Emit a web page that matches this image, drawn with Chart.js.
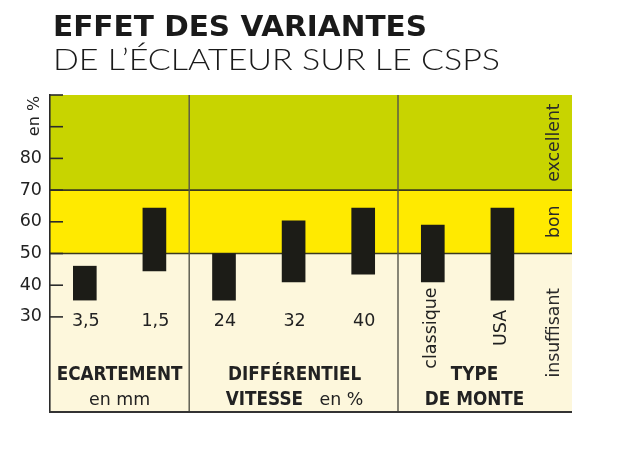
<!DOCTYPE html>
<html>
<head>
<meta charset="utf-8">
<script src="https://cdn.jsdelivr.net/npm/chart.js@4/dist/chart.umd.min.js"></script>
<style>
  html, body { margin: 0; padding: 0; background: #ffffff; }
  #wrap { position: relative; width: 620px; height: 456px; }
</style>
</head>
<body>
<div id="wrap"><canvas id="c"></canvas></div>
<script>
// ---- data ----
const titleText = 'EFFET DES VARIANTES';
const subtitleText = 'DE L’ÉCLATEUR SUR LE CSPS';
const categories = ['3,5', '1,5', '24', '32', '40', 'classique', 'USA'];
const lowValues  = [35.3, 44.5, 35.3, 41.0, 43.5, 41.0, 35.3];
const highValues = [46.0, 64.3, 50.0, 60.3, 64.3, 59.0, 64.3];
const groupOfCategory = [0, 0, 1, 1, 1, 2, 2];
const groupTitles = ['ECARTEMENT', 'DIFFÉRENTIEL', 'TYPE'];
const groupSubtitles = [
  [['en mm', false]],
  [['VITESSE', true], ['   en %', false]],
  [['DE MONTE', true]]
];
const bandLimits = [0, 50, 70, 100];
const bandNames = ['insuffisant', 'bon', 'excellent'];
const yTickLabels = [30, 40, 50, 60, 70, 80];
const yTickMarks = [30, 40, 50, 60, 70, 80, 90, 100];
const yAxisUnit = 'en %';

// ---- styling ----
const bandColors = ['#fdf7dc', '#ffea00', '#c8d400'];
const barColor = '#1c1c17';
const textColor = '#222222';
const numFont = '"DejaVu Sans", Verdana, sans-serif';

const barData = categories.map((c, i) => ({ x: i, y: [lowValues[i], highValues[i]] }));

function drawFitted(ctx, text, x, y, font, targetWidth) {
  ctx.save();
  ctx.font = font;
  const w = ctx.measureText(text).width;
  const s = targetWidth ? targetWidth / w : 1;
  ctx.translate(x, y);
  ctx.scale(s, 1);
  ctx.fillText(text, 0, 0);
  ctx.restore();
}

function drawCondensed(ctx, text, x, y, font, squeeze) {
  ctx.save();
  ctx.font = font;
  ctx.translate(x, y);
  ctx.scale(squeeze, 1);
  ctx.fillText(text, 0, 0);
  ctx.restore();
}

const boldFont = 'bold 18.7px ' + numFont;
const regFont = '17.4px ' + numFont;
const squeeze = 0.9;

function segWidth(ctx, seg) {
  ctx.save();
  ctx.font = seg[1] ? boldFont : regFont;
  const w = ctx.measureText(seg[0]).width * (seg[1] ? squeeze : 1);
  ctx.restore();
  return w;
}

const decor = {
  id: 'decor',
  beforeDraw(chart) {
    const { ctx, chartArea: a, scales: { y } } = chart;
    ctx.save();
    for (let i = 0; i < bandNames.length; i++) {
      const top = y.getPixelForValue(bandLimits[i + 1]);
      const bot = y.getPixelForValue(bandLimits[i]);
      ctx.fillStyle = bandColors[i];
      ctx.fillRect(a.left, top, a.right - a.left, bot - top);
    }
    // titles
    ctx.fillStyle = '#1a1a1a';
    ctx.textAlign = 'left';
    ctx.textBaseline = 'alphabetic';
    drawFitted(ctx, titleText, 53, 36, 'bold 29px ' + numFont, 374);
    drawFitted(ctx, subtitleText, 53, 70, '300 29.5px Lato, "DejaVu Sans", sans-serif', 447);
    // y unit
    ctx.save();
    ctx.translate(35, 116);
    ctx.rotate(-Math.PI / 2);
    ctx.font = '16px ' + numFont;
    ctx.fillStyle = textColor;
    ctx.textAlign = 'center';
    ctx.textBaseline = 'middle';
    ctx.fillText(yAxisUnit, 0, 0);
    ctx.restore();
    ctx.restore();
  },
  beforeDatasetsDraw(chart) {
    const { ctx, chartArea: a, scales: { x, y } } = chart;
    ctx.save();
    // band separators
    ctx.strokeStyle = '#3b3a1e';
    ctx.lineWidth = 1.6;
    for (let i = 1; i < bandLimits.length - 1; i++) {
      const py = y.getPixelForValue(bandLimits[i]);
      ctx.beginPath(); ctx.moveTo(a.left, py); ctx.lineTo(a.right, py); ctx.stroke();
    }
    // group dividers
    ctx.strokeStyle = '#55554a';
    ctx.lineWidth = 1.4;
    for (let i = 1; i < groupOfCategory.length; i++) {
      if (groupOfCategory[i] !== groupOfCategory[i - 1]) {
        const px = x.getPixelForValue(i - 0.5);
        ctx.beginPath(); ctx.moveTo(px, a.top); ctx.lineTo(px, a.bottom); ctx.stroke();
      }
    }
    // inward tick marks
    ctx.strokeStyle = '#2b2b2b';
    ctx.lineWidth = 1.6;
    yTickMarks.forEach(v => {
      const py = y.getPixelForValue(v);
      ctx.beginPath(); ctx.moveTo(a.left, py); ctx.lineTo(a.left + 13, py); ctx.stroke();
    });
    // bottom line
    ctx.strokeStyle = '#333333';
    ctx.lineWidth = 2;
    ctx.beginPath(); ctx.moveTo(a.left - 1, a.bottom); ctx.lineTo(a.right, a.bottom); ctx.stroke();
    ctx.restore();
  },
  afterDatasetsDraw(chart) {
    const { ctx, chartArea: a, scales: { x, y } } = chart;
    ctx.save();
    ctx.fillStyle = textColor;
    // category labels
    categories.forEach((c, i) => {
      const px = x.getPixelForValue(i);
      if (groupOfCategory[i] === 2) {
        ctx.save();
        ctx.translate(px - 1, a.bottom - 84);
        ctx.rotate(-Math.PI / 2);
        ctx.font = '17.5px ' + numFont;
        ctx.textAlign = 'center';
        ctx.textBaseline = 'middle';
        ctx.fillText(c, 0, 0);
        ctx.restore();
      } else {
        ctx.font = '17.5px ' + numFont;
        ctx.textAlign = 'center';
        ctx.textBaseline = 'middle';
        ctx.fillText(c, px + 1, a.bottom - 90.5);
      }
    });
    // band names
    bandNames.forEach((n, i) => {
      const cy = (y.getPixelForValue(bandLimits[i]) + y.getPixelForValue(bandLimits[i + 1])) / 2;
      ctx.save();
      ctx.translate(a.right - 17, cy);
      ctx.rotate(-Math.PI / 2);
      ctx.font = '17.3px ' + numFont;
      ctx.fillStyle = '#2a2a2a';
      ctx.textAlign = 'center';
      ctx.textBaseline = 'middle';
      ctx.fillText(n, 0, 0);
      ctx.restore();
    });
    // group titles
    const groupCenters = [x.getPixelForValue(0.5), x.getPixelForValue(3) + 1, x.getPixelForValue(5.6)];
    ctx.textBaseline = 'middle';
    ctx.textAlign = 'left';
    groupTitles.forEach((t, g) => {
      const w = segWidth(ctx, [t, true]);
      ctx.fillStyle = textColor;
      drawCondensed(ctx, t, groupCenters[g] - w / 2, a.bottom - 37, boldFont, squeeze);
      const segs = groupSubtitles[g];
      const total = segs.reduce((s, seg) => s + segWidth(ctx, seg), 0);
      let cx = groupCenters[g] - total / 2;
      segs.forEach(seg => {
        if (seg[1]) {
          drawCondensed(ctx, seg[0], cx, a.bottom - 12, boldFont, squeeze);
        } else {
          ctx.font = regFont;
          ctx.fillText(seg[0], cx, a.bottom - 12);
        }
        cx += segWidth(ctx, seg);
      });
    });
    ctx.restore();
  }
};

new Chart(document.getElementById('c'), {
  type: 'bar',
  data: {
    datasets: [{
      data: barData,
      backgroundColor: barColor,
      borderWidth: 0,
      barThickness: 23
    }]
  },
  options: {
    responsive: true,
    maintainAspectRatio: false,
    animation: false,
    events: [],
    layout: { padding: { left: 0, top: 95, right: 48, bottom: 44 } },
    plugins: { legend: { display: false }, tooltip: { enabled: false }, title: { display: false } },
    scales: {
      x: {
        type: 'linear',
        min: -0.5,
        max: 7,
        offset: false,
        display: false
      },
      y: {
        type: 'linear',
        min: 0,
        max: 100,
        afterFit(scale) { scale.width = 50; },
        grid: { display: false, drawTicks: false },
        border: { display: true, color: '#2b2b2b', width: 1.6 },
        ticks: {
          stepSize: 10,
          padding: 8,
          color: textColor,
          font: { family: numFont, size: 17.5 },
          callback: v => (yTickLabels.includes(v) ? String(v) : '')
        }
      }
    }
  },
  plugins: [decor]
});
</script>
</body>
</html>
